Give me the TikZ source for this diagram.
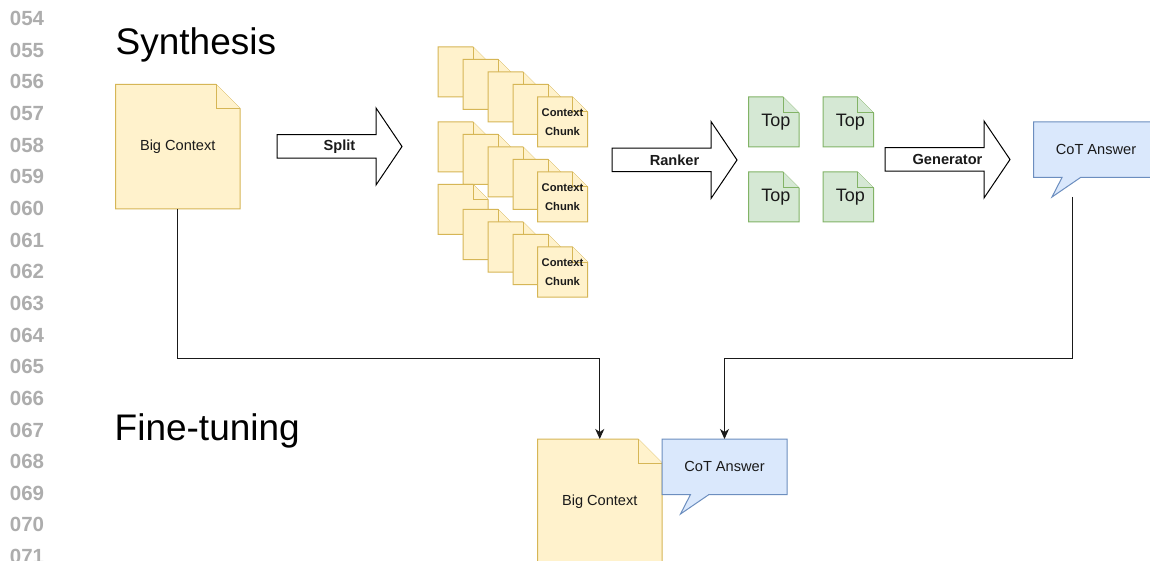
\documentclass[tikz,border=0pt]{standalone}
\usepackage{fontspec}
\setmainfont{Liberation Sans}
\usetikzlibrary{arrows.meta}

\definecolor{noteFill}{HTML}{FFF2CC}
\definecolor{noteLine}{HTML}{D6B656}
\definecolor{topFill}{HTML}{D5E8D4}
\definecolor{topLine}{HTML}{82B366}
\definecolor{ansFill}{HTML}{DAE8FC}
\definecolor{ansLine}{HTML}{6C8EBF}
\definecolor{lineNo}{HTML}{ADADAD}
\definecolor{ink}{HTML}{1A1A1A}

\tikzset{
  yellownote/.style={fill=noteFill, draw=noteLine, line width=1pt, line join=miter},
  greennote/.style={fill=topFill, draw=topLine, line width=1pt, line join=miter},
  bluenote/.style={fill=ansFill, draw=ansLine, line width=1pt, line join=miter},
  blockarrow/.style={fill=white, draw=black, line width=1pt, line join=miter},
  arrowtext/.style={font=\bfseries\fontsize{14.6}{17}\selectfont, text=ink, inner sep=0pt},
  link/.style={draw=ink, line width=1pt, -{Stealth[length=10pt,width=9pt,inset=3pt]}},
  linenum/.style={font=\bfseries\fontsize{20.5}{23}\selectfont, text=lineNo, inner sep=0pt},
  heading/.style={font=\fontsize{37}{44}\selectfont, text=black, inner sep=0pt, anchor=base west},
}

% document sheet with a folded top-right corner
% #1 name, #2 style, #3 x, #4 y, #5 w, #6 h, #7 fold, #8 font, #9 text
\newcommand\papersheet[9]{%
  \path[#2] (#3,#4) -- (#3+#5-#7,#4) -- (#3+#5,#4+#7) -- (#3+#5,#4+#6) -- (#3,#4+#6) -- cycle;
  \path[#2] (#3+#5-#7,#4) -- (#3+#5-#7,#4+#7) -- (#3+#5,#4+#7);
  \node[font=#8, text=ink, align=center, inner sep=0pt, outer sep=0pt,
        minimum width=#5pt, minimum height=#6pt] (#1) at (#3+#5/2,#4+#6/2) {#9};
}

% speech bubble with a tail at the lower left; #1 name, #2 x, #3 y, #4 text
\newcommand\speechbox[4]{%
  \path[bluenote] (#2,#3) -- (#2+125,#3) -- (#2+125,#3+55.5) -- (#2+47,#3+55.5)
     -- (#2+18.5,#3+75) -- (#2+28.5,#3+55.5) -- (#2,#3+55.5) -- cycle;
  \node[font=\fontsize{14.6}{17}\selectfont, text=ink, inner sep=0pt, outer sep=0pt,
        minimum width=125pt, minimum height=55.5pt] (#1) at (#2+62.5,#3+27.75) {#4};
}

% wide block arrow pointing right; #1 name, #2 left x, #3 middle y, #4 text
\newcommand\bigarrow[4]{%
  \path[blockarrow] (#2,#3-11.75) -- (#2+99,#3-11.75) -- (#2+99,#3-38.5) -- (#2+125,#3)
     -- (#2+99,#3+38.5) -- (#2+99,#3+11.75) -- (#2,#3+11.75) -- cycle;
  \node[arrowtext] (#1) at (#2+62.5,#3) {#4};
}

\begin{document}
\begin{tikzpicture}[x=1pt, y=-1pt]
\useasboundingbox (0,0) rectangle (1150,561);
\clip (0,0) rectangle (1150,561);
\fill[white] (0,0) rectangle (1150,561);

% line numbers in the margin
\foreach \n [count=\i from 0] in {054,055,056,057,058,059,060,061,062,063,064,065,066,067,068,069,070,071}
  \node[linenum] (ln\n) at (27,18.5+31.65*\i) {\n};

% section headings
\node[heading] (synth) at (115.5,55) {Synthesis};
\node[heading] (finetune) at (114.5,440) {Fine-tuning};

% ---------- synthesis ----------
\papersheet{bigA}{yellownote}{115.5}{84.5}{124.5}{124.5}{24}{\fontsize{14.6}{17}\selectfont}{Big Context}

\bigarrow{split}{277}{146.5}{Split}

% three stacks of context chunks
\def\chunkfont{\bfseries\fontsize{11.2}{18.5}\selectfont}
\papersheet{c11}{yellownote}{438}{47}{50}{50}{15}{\chunkfont}{}
\papersheet{c12}{yellownote}{463}{59.5}{50}{50}{15}{\chunkfont}{}
\papersheet{c13}{yellownote}{488}{72}{50}{50}{15}{\chunkfont}{}
\papersheet{c14}{yellownote}{513}{84.5}{50}{50}{15}{\chunkfont}{}
\papersheet{c15}{yellownote}{537.5}{97}{50}{50}{15}{\chunkfont}{Context\\Chunk}

\papersheet{c21}{yellownote}{438}{122}{50}{50}{15}{\chunkfont}{}
\papersheet{c22}{yellownote}{463}{134.5}{50}{50}{15}{\chunkfont}{}
\papersheet{c23}{yellownote}{488}{147}{50}{50}{15}{\chunkfont}{}
\papersheet{c24}{yellownote}{513}{159.5}{50}{50}{15}{\chunkfont}{}
\papersheet{c25}{yellownote}{537.5}{172}{50}{50}{15}{\chunkfont}{Context\\Chunk}

\papersheet{c31}{yellownote}{438}{184.5}{50}{50}{15}{\chunkfont}{}
\papersheet{c32}{yellownote}{463}{209.5}{50}{50}{15}{\chunkfont}{}
\papersheet{c33}{yellownote}{488}{222}{50}{50}{15}{\chunkfont}{}
\papersheet{c34}{yellownote}{513}{234.5}{50}{50}{15}{\chunkfont}{}
\papersheet{c35}{yellownote}{537.5}{247}{50}{50}{15}{\chunkfont}{Context\\Chunk}

\bigarrow{ranker}{612}{160}{Ranker}

% top-ranked chunks
\def\topfont{\fontsize{18}{21}\selectfont}
\papersheet{t1}{greennote}{748.5}{97}{50.5}{50}{16}{\topfont}{\hspace*{4pt}Top}
\papersheet{t2}{greennote}{823}{97}{50.5}{50}{16}{\topfont}{\hspace*{4pt}Top}
\papersheet{t3}{greennote}{748.5}{172}{50.5}{50}{16}{\topfont}{\hspace*{4pt}Top}
\papersheet{t4}{greennote}{823}{172}{50.5}{50}{16}{\topfont}{\hspace*{4pt}Top}

\bigarrow{generator}{885}{159.5}{Generator}

\speechbox{cotA}{1033.5}{122}{CoT Answer}
\coordinate (cotAtail) at (1072,197);

% ---------- fine-tuning ----------
\papersheet{bigB}{yellownote}{537.5}{439}{124.5}{124.5}{24}{\fontsize{14.6}{17}\selectfont}{Big Context}
\speechbox{cotB}{662}{439}{CoT Answer}

% connectors between the two stages
\coordinate (bus) at (0,358.3);
\draw[link] (bigA.south) -- (bigA.south |- bus) -| (bigB.north);
\draw[link] (cotAtail) -- (cotAtail |- bus) -| (cotB.north);
\end{tikzpicture}
\end{document}
